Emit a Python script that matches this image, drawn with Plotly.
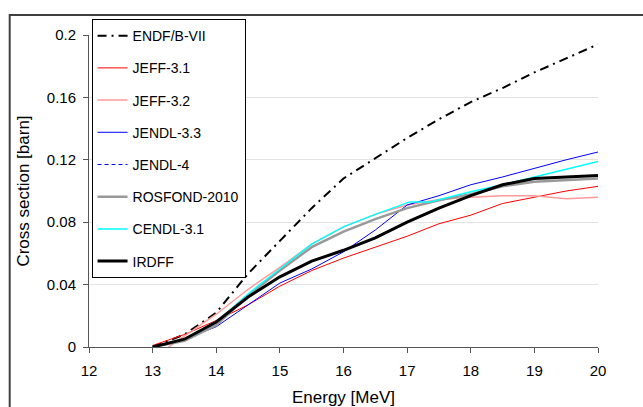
import plotly.graph_objects as go

energy = [13, 13.5, 14, 14.5, 15, 15.5, 16, 16.5, 17, 17.5, 18, 18.5, 19, 19.5, 20]

endf_b7 = [0.0, 0.008, 0.022, 0.047, 0.068, 0.089, 0.108, 0.121, 0.134, 0.146, 0.157, 0.166, 0.176, 0.185, 0.194]
jeff31 = [0.001, 0.008, 0.017, 0.027, 0.039, 0.049, 0.057, 0.064, 0.071, 0.079, 0.0845, 0.092, 0.096, 0.100, 0.103]
energy_jeff32 = [13.25, 13.5, 14, 14.5, 15, 15.5, 16, 16.5, 17, 17.5, 18, 18.5, 19, 19.5, 20]
jeff32 = [0.0, 0.007, 0.021, 0.037, 0.051, 0.066, 0.077, 0.085, 0.091, 0.0945, 0.096, 0.097, 0.097, 0.095, 0.096]
jendl33 = [0.0, 0.005, 0.013, 0.027, 0.041, 0.050, 0.061, 0.075, 0.091, 0.097, 0.104, 0.109, 0.1145, 0.120, 0.125]
jendl4 = [0.0, 0.004, 0.014, 0.033, 0.049, 0.064, 0.074, 0.082, 0.089, 0.094, 0.098, 0.103, 0.106, 0.107, 0.108]
rosfond = [0.0, 0.004, 0.014, 0.033, 0.049, 0.064, 0.074, 0.082, 0.089, 0.094, 0.098, 0.103, 0.106, 0.107, 0.108]
energy_cendl = [13, 13.5, 14, 14.5, 15, 15.5, 16, 16.5, 17.04, 17.36, 18, 18.5, 19, 19.5, 20]
cendl31 = [0.0, 0.005, 0.016, 0.034, 0.050, 0.066, 0.077, 0.085, 0.093, 0.093, 0.0995, 0.104, 0.109, 0.114, 0.119]
irdff = [0.0, 0.005, 0.016, 0.032, 0.045, 0.055, 0.062, 0.070, 0.080, 0.089, 0.097, 0.104, 0.108, 0.109, 0.110]

series = [
    ("ENDF/B-VII", energy, endf_b7, dict(color="black", width=2, dash="9px,5px,2px,5px")),
    ("JEFF-3.1", energy, jeff31, dict(color="#ff0000", width=1)),
    ("JEFF-3.2", energy_jeff32, jeff32, dict(color="#ff9a9a", width=1.5)),
    ("JENDL-3.3", energy, jendl33, dict(color="#0000ff", width=1)),
    ("JENDL-4", energy, jendl4, dict(color="#0000ff", width=1, dash="4px,3px")),
    ("ROSFOND-2010", energy, rosfond, dict(color="#999999", width=2.5)),
    ("CENDL-3.1", energy_cendl, cendl31, dict(color="#00ffff", width=1.5)),
    ("IRDFF", energy, irdff, dict(color="black", width=3)),
]

fig = go.Figure()
for i, (name, x, y, line) in enumerate(series):
    fig.add_trace(go.Scatter(x=x, y=y, mode="lines", name=name, line=line,
                             legendgroup=f"g{i}"))

font_family = "Liberation Sans, Arial, sans-serif"

fig.update_layout(
    width=643, height=407,
    margin=dict(l=89, r=45, t=35, b=60),
    paper_bgcolor="white", plot_bgcolor="white",
    font=dict(family=font_family, color="black", size=15),
    showlegend=True,
    legend=dict(
        x=0.005, y=1.051, xanchor="left", yanchor="top",
        bgcolor="white", bordercolor="black", borderwidth=1,
        font=dict(size=14, family=font_family, color="black"),
        traceorder="grouped", tracegroupgap=11,
        itemwidth=30, maxheight=400,
    ),
    xaxis=dict(
        range=[12, 20], tickvals=[12, 13, 14, 15, 16, 17, 18, 19, 20],
        showgrid=False, zeroline=False, automargin=False,
        showline=True, linecolor="#555555", linewidth=1,
        ticks="outside", ticklen=5, tickcolor="#555555",
        tickfont=dict(size=15), ticklabelstandoff=5,
        title=dict(text="Energy [MeV]", font=dict(size=17), standoff=18),
    ),
    yaxis=dict(
        range=[0, 0.2], tickvals=[0, 0.04, 0.08, 0.12, 0.16, 0.2],
        ticktext=["0", "0.04", "0.08", "0.12", "0.16", "0.2"],
        showgrid=True, gridcolor="#e3e3e3", gridwidth=1, zeroline=False,
        automargin=False,
        showline=True, linecolor="#555555", linewidth=1,
        ticks="outside", ticklen=5, tickcolor="#555555",
        tickfont=dict(size=15), ticklabelstandoff=4,
        title=dict(text="Cross section [barn]", font=dict(size=17), standoff=12),
    ),
    shapes=[dict(type="rect", xref="paper", yref="paper",
                 x0=(10 - 89.3) / 509, x1=1.3, y0=-0.4, y1=(346.7 - 15) / 311.7,
                 line=dict(color="#404040", width=2), fillcolor="rgba(0,0,0,0)",
                 layer="below")],
)

fig.write_html("out.html")
